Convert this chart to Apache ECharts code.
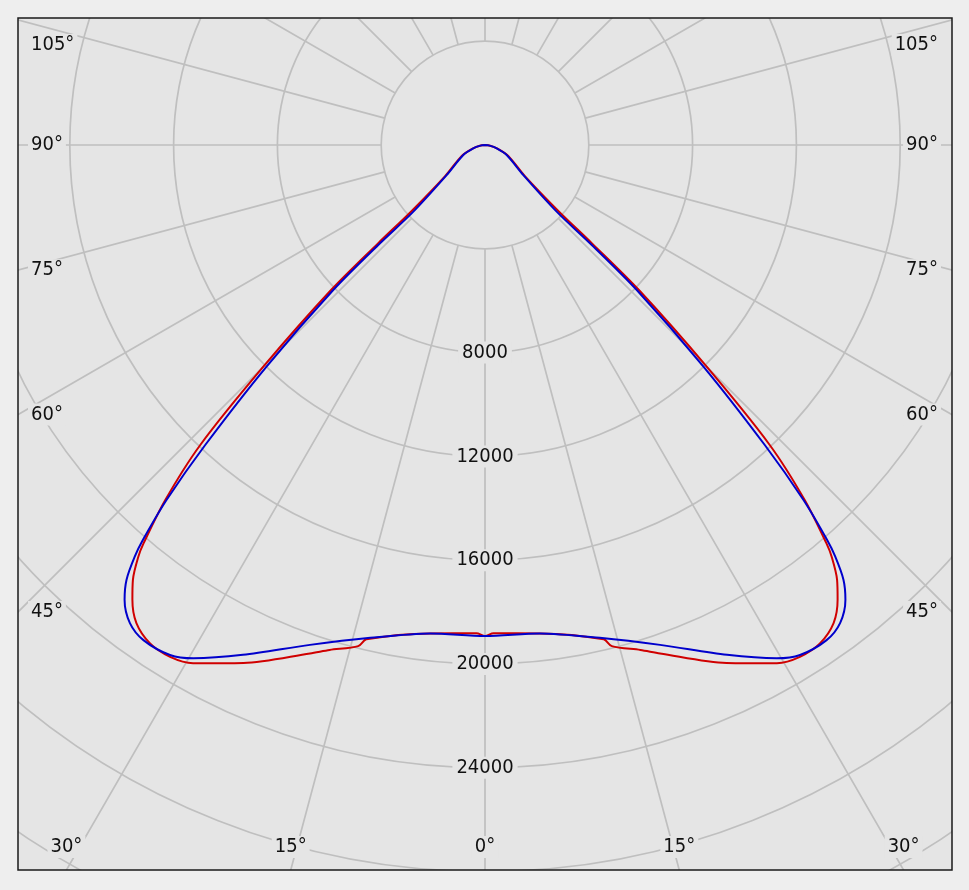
<!DOCTYPE html>
<html lang="en">
<head>
    <meta charset="UTF-8">
    <title>光强分布曲线</title>
    <script src="https://cdn.jsdelivr.net/npm/echarts@6/dist/echarts.min.js"></script>
    <style>
        html, body { margin: 0; padding: 0; background: #eeeeee; }
        #main { width: 969px; height: 890px; }
    </style>
</head>
<body>
<div id="main"></div>
<script>
    // C0-C180 plane (red), gamma in degrees, intensity in cd
    var gammaC0 = [0, 1, 6.4, 13.5, 14.2, 17.1, 19.0, 25.0, 29.4, 31.6, 33.9, 36.1, 37.8, 39.0, 40.1, 40.6, 42.0, 43.5, 45.0, 46.7, 47.4, 48.0, 52, 65, 74, 82, 90];
    var intensityC0 = [18920, 18820, 18940, 19590, 19920, 20360, 20720, 22020, 22920, 23160, 23140, 22800, 22170, 21560, 20740, 20220, 18420, 15950, 12070, 8150, 5600, 3840, 1950, 980, 500, 200, 0];
    // C90-C270 plane (blue)
    var gammaC90 = [0, 6.4, 13.1, 19.3, 25.4, 29.6, 31.7, 34.6, 36.6, 38.4, 39.5, 40.4, 40.9, 41.9, 43.0, 44.6, 46.3, 46.9, 47.1, 51.9, 65.3, 74.2, 82, 90];
    var intensityC90 = [18920, 18940, 19500, 20410, 21750, 22750, 23100, 23180, 22950, 22360, 21720, 20820, 20130, 18370, 15820, 11990, 8090, 5540, 3770, 1880, 920, 470, 180, 0];

    var radiusLabels = [8000, 12000, 16000, 20000, 24000];
    var angleLabels = [0, 15, 30, 45, 60, 75, 90, 105];

    var bg = '#e5e5e5';
    var gridColor = '#bfbfbf';
    var fontFam = '"DejaVu Sans Condensed", "Noto Sans", sans-serif';
    var box = { x: 18, y: 18, w: 934, h: 852 };
    var center = [485, 145];
    var pxPerCd = 0.02595;
    var rMax = 36000;

    // left half mirrored to 360 - gamma, then right half
    function polarData(g, v) {
        var out = [];
        for (var i = g.length - 1; i > 0; i--) out.push([v[i], 360 - g[i]]);
        for (var j = 0; j < g.length; j++) out.push([v[j], g[j]]);
        return out;
    }

    var chart = echarts.init(document.getElementById('main'));
    var option = {
        animation: false,
        backgroundColor: '#eeeeee',
        polar: [
            { center: center, radius: rMax * pxPerCd },
            { center: center, radius: [4000 * pxPerCd, rMax * pxPerCd] }
        ],
        angleAxis: [
            { polarIndex: 0, type: 'value', min: 0, max: 360, startAngle: 270, clockwise: false, show: false },
            {
                polarIndex: 1, type: 'value', min: 0, max: 360, interval: 15, startAngle: 270, clockwise: false, z: 0,
                axisLine: { show: false }, axisTick: { show: false }, axisLabel: { show: false },
                splitLine: { show: true, lineStyle: { color: gridColor, width: 1.7 } }
            }
        ],
        radiusAxis: [
            {
                polarIndex: 0, type: 'value', min: 0, max: rMax, interval: 4000, z: 1,
                axisLine: { show: false }, axisTick: { show: false },
                splitLine: { show: true, lineStyle: { color: gridColor, width: 1.7 } },
                axisLabel: {
                    show: true, customValues: radiusLabels, margin: 0,
                    align: 'center', verticalAlign: 'middle',
                    formatter: function (v) { return radiusLabels.indexOf(v) >= 0 ? String(v) : ''; },
                    color: '#111', fontFamily: fontFam, fontSize: 20,
                    backgroundColor: bg, padding: [1, 4]
                }
            },
            { polarIndex: 1, type: 'value', min: 0, max: 1, show: false }
        ],
        series: [
            {
                name: 'C0-C180', type: 'line', coordinateSystem: 'polar', polarIndex: 0,
                data: polarData(gammaC0, intensityC0), symbol: 'none', z: 2, smooth: 0.3,
                lineStyle: { color: '#d00000', width: 2 }
            },
            {
                name: 'C90-C270', type: 'line', coordinateSystem: 'polar', polarIndex: 0,
                data: polarData(gammaC90, intensityC90), symbol: 'none', z: 3, smooth: 0.3,
                lineStyle: { color: '#0000cc', width: 2 }
            }
        ]
    };
    chart.setOption(option);

    // angle labels sit where each spoke meets the frame
    function angleLabel(a, text) {
        var c = chart.convertToPixel({ polarIndex: 0 }, [0, a]);
        var f = chart.convertToPixel({ polarIndex: 0 }, [rMax, a]);
        var dx = f[0] - c[0], dy = f[1] - c[1];
        var t = Infinity, edge = '';
        if (dx < -1e-6) { var tl = (box.x - c[0]) / dx; if (tl < t) { t = tl; edge = 'left'; } }
        if (dx > 1e-6) { var tr = (box.x + box.w - c[0]) / dx; if (tr < t) { t = tr; edge = 'right'; } }
        if (dy > 1e-6) { var tb = (box.y + box.h - c[1]) / dy; if (tb < t) { t = tb; edge = 'bottom'; } }
        if (dy < -1e-6) { var tt = (box.y - c[1]) / dy; if (tt < t) { t = tt; edge = 'top'; } }
        var px = c[0] + dx * t, py = c[1] + dy * t;
        var st = { text: text, fill: '#111', font: '20px ' + fontFam, backgroundColor: bg, padding: [1, 3], verticalAlign: 'middle' };
        var x, y;
        if (edge === 'left') { x = box.x + 10; y = Math.max(py, box.y + 27); st.align = 'left'; }
        else if (edge === 'right') { x = box.x + box.w - 11; y = Math.max(py, box.y + 27); st.align = 'right'; }
        else { x = Math.min(Math.max(px, box.x + 34), box.x + box.w - 34); y = box.y + box.h - 23; st.align = 'center'; }
        return { type: 'text', x: x, y: y, z: 110, style: st };
    }

    var graphics = [
        { type: 'rect', z: -10, shape: { x: box.x, y: box.y, width: box.w, height: box.h }, style: { fill: bg } },
        { type: 'rect', z: 100, shape: { x: 0, y: 0, width: 969, height: box.y }, style: { fill: '#eeeeee' } },
        { type: 'rect', z: 100, shape: { x: 0, y: box.y + box.h, width: 969, height: 890 - box.y - box.h }, style: { fill: '#eeeeee' } },
        { type: 'rect', z: 100, shape: { x: 0, y: 0, width: box.x, height: 890 }, style: { fill: '#eeeeee' } },
        { type: 'rect', z: 100, shape: { x: box.x + box.w, y: 0, width: 969 - box.x - box.w, height: 890 }, style: { fill: '#eeeeee' } },
        { type: 'rect', z: 101, shape: { x: box.x, y: box.y, width: box.w, height: box.h }, style: { fill: null, stroke: '#1a1a1a', lineWidth: 1.5 } }
    ];
    angleLabels.forEach(function (g) {
        graphics.push(angleLabel(g, g + '°'));
        if (g > 0) graphics.push(angleLabel(360 - g, g + '°'));
    });
    chart.setOption({ graphic: { elements: graphics } });
</script>
</body>
</html>
